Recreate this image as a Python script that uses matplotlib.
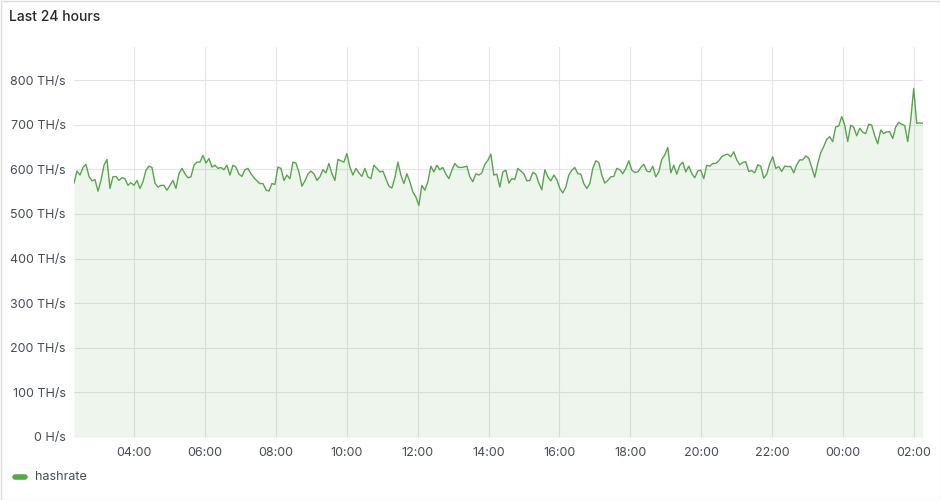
import matplotlib
matplotlib.use("Agg")
import matplotlib.pyplot as plt
import matplotlib.dates as mdates
from matplotlib.lines import Line2D
from matplotlib.patches import Rectangle
import pandas as pd

plt.rcParams['font.family'] = ['Inter', 'DejaVu Sans']

# hashrate in TH/s (one sample every ~5 minutes)
hashrate = [
    569, 596, 587, 604, 611, 584, 574, 577, 551, 575, 609, 622, 557, 583, 584, 575, 581, 579,
    564, 570, 564, 575, 557, 572, 598, 607, 604, 569, 560, 564, 564, 553, 564, 575, 557, 590,
    602, 590, 581, 583, 609, 616, 616, 631, 614, 624, 605, 609, 602, 604, 599, 609, 587, 609,
    605, 589, 584, 599, 602, 590, 581, 574, 568, 568, 554, 551, 568, 566, 605, 602, 575, 587,
    579, 616, 614, 594, 562, 574, 589, 596, 590, 575, 583, 599, 592, 613, 590, 575, 622, 619,
    616, 635, 605, 587, 602, 592, 584, 602, 583, 579, 609, 602, 594, 596, 579, 562, 558, 581,
    616, 587, 568, 590, 572, 549, 538, 519, 564, 553, 572, 607, 594, 609, 599, 604, 589, 579,
    598, 613, 605, 604, 605, 607, 583, 572, 590, 587, 592, 611, 620, 634, 587, 589, 560, 594,
    598, 569, 579, 577, 602, 596, 590, 574, 575, 593, 589, 569, 554, 599, 583, 574, 587, 577,
    557, 547, 560, 587, 598, 604, 590, 589, 568, 557, 568, 602, 619, 615, 587, 569, 575, 583,
    584, 602, 599, 590, 602, 619, 598, 593, 594, 604, 611, 596, 594, 607, 583, 594, 622, 632,
    649, 592, 609, 589, 609, 616, 594, 607, 590, 581, 596, 598, 579, 609, 607, 613, 613, 619,
    628, 632, 634, 628, 639, 621, 610, 615, 617, 595, 597, 592, 610, 607, 580, 589, 613, 628,
    602, 606, 595, 607, 606, 606, 592, 610, 621, 621, 630, 625, 604, 582, 613, 637, 651, 667,
    673, 662, 695, 697, 718, 699, 662, 699, 694, 675, 692, 683, 680, 701, 699, 675,
    657, 688, 680, 684, 684, 669, 695, 705, 701, 698, 662, 710, 781, 703, 704, 703,
]
times = pd.date_range("2024-05-01 02:18", "2024-05-02 02:15", periods=len(hashrate))

y_ticks = [0, 100, 200, 300, 400, 500, 600, 700, 800]
y_labels = ["0 H/s", "100 TH/s", "200 TH/s", "300 TH/s", "400 TH/s",
            "500 TH/s", "600 TH/s", "700 TH/s", "800 TH/s"]

green = '#56a64b'
text_col = '#464c54'

fig = plt.figure(figsize=(9.4, 5), dpi=100)
fig.patch.set_facecolor('white')

ax = fig.add_axes([74 / 940, 1 - 437 / 500, (922.7 - 74) / 940, (437 - 47) / 500])
ax.plot(times, hashrate, color=green, lw=1)
ax.fill_between(times, hashrate, 0, color=green, alpha=0.1, lw=0)

ax.set_xlim(times[0], times[-1])
ax.set_ylim(0, 874)
ax.set_yticks(y_ticks)
ax.set_yticklabels(y_labels)
ax.xaxis.set_major_locator(mdates.HourLocator(byhour=range(0, 24, 2)))
ax.xaxis.set_major_formatter(mdates.DateFormatter('%H:%M'))

ax.grid(color='#e4e4e4', lw=0.8)
ax.set_axisbelow(True)
for s in ax.spines.values():
    s.set_visible(False)
ax.tick_params(length=0, labelsize=9, colors=text_col)
ax.tick_params(axis='y', pad=6)
ax.tick_params(axis='x', pad=7)

fig.text(9 / 940, 1 - 17 / 500, "Last 24 hours", fontsize=10, fontweight=500,
         color='#24292e', va='center', ha='left')

# legend
fig.add_artist(Line2D([15 / 940, 25 / 940], [1 - 477 / 500, 1 - 477 / 500],
                      transform=fig.transFigure, color=green, lw=4,
                      solid_capstyle='round'))
fig.text(35 / 940, 1 - 477 / 500, "hashrate", fontsize=9, color=text_col,
         va='center', ha='left')

# panel border
fig.add_artist(Rectangle((0.5 / 940, 0.5 / 500), 939 / 940, 499 / 500,
                         transform=fig.transFigure, fill=False,
                         edgecolor='#dcdcdc', lw=1))

fig.savefig("out.png", dpi=100)
